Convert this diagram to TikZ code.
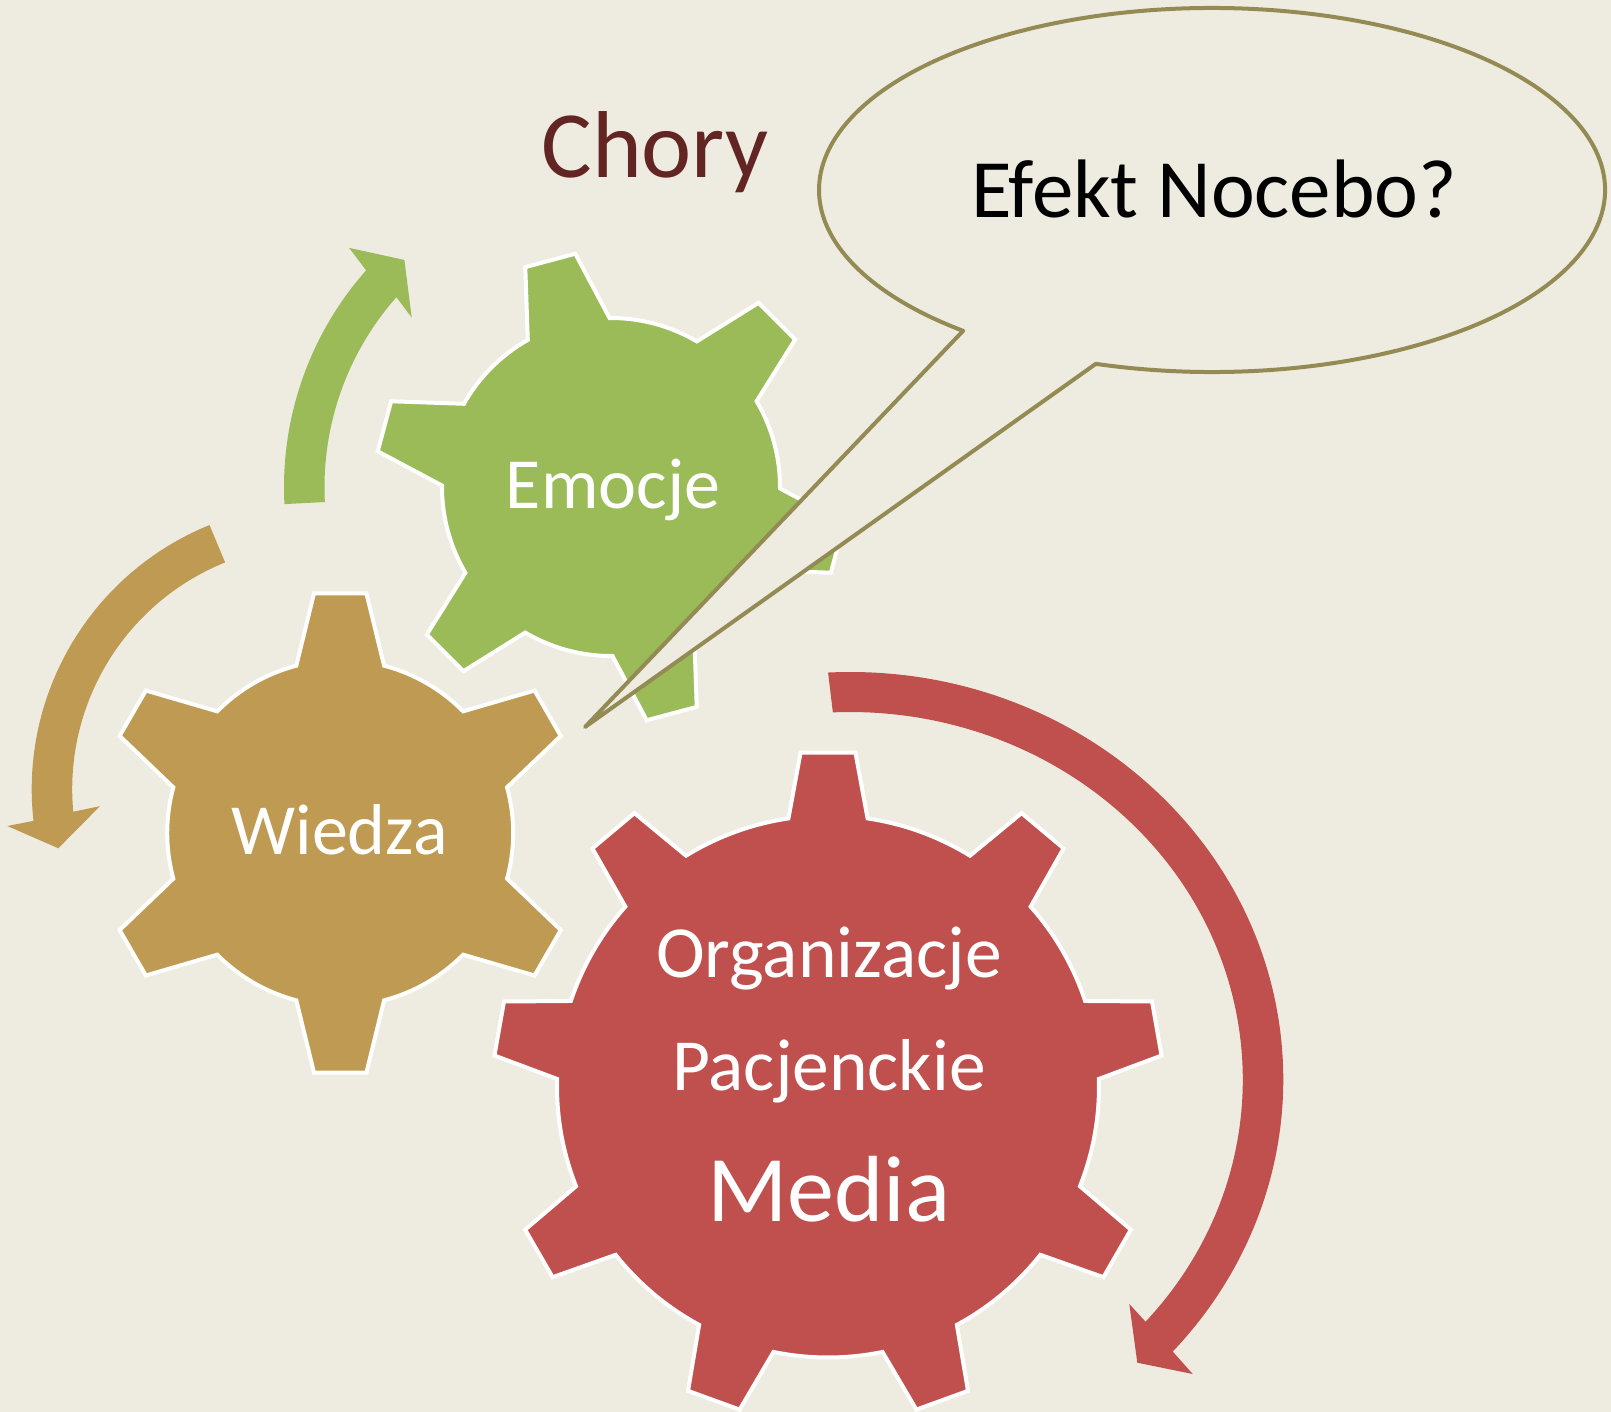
\documentclass[tikz,border=0pt]{standalone}
\usepackage{fontspec}
\setmainfont{Carlito}
\usetikzlibrary{calc}
\definecolor{PaperTan}{HTML}{EEECE1}
\definecolor{GearGreen}{HTML}{9BBB59}
\definecolor{GearBrown}{HTML}{BF9A52}
\definecolor{GearRed}{HTML}{C0504D}
\definecolor{CalloutOlive}{HTML}{948A54}
\definecolor{ChoryMaroon}{HTML}{632523}

% gear: centre, root r, tip r, teeth, first tooth angle, base half-angle, tip half-angle, fill
\newcommand{\cogwheel}[8]{%
  \filldraw[gearline,fill=#8,shift={#1}] ({#5-#6}:#2)
    \foreach \k in {1,...,#4}{
      -- ({#5+(\k-1)*360/#4-#7}:#3) -- ({#5+(\k-1)*360/#4+#7}:#3)
      -- ({#5+(\k-1)*360/#4+#6}:#2)
      arc[start angle={#5+(\k-1)*360/#4+#6}, end angle={#5+\k*360/#4-#6}, radius=#2]
    } -- cycle;}

\begin{document}
\begin{tikzpicture}[x=1pt,y=1pt,
    gearline/.style={draw=white,line width=4pt},
    gearlabel/.style={text=white,anchor=base,inner sep=0pt,font=\fontsize{72}{86}\selectfont}]
    \fill[PaperTan] (0,0) rectangle (1611,-1412);
    \useasboundingbox (0,0) rectangle (1611,-1412);
    % circular arrows round the gears
    \fill[GearGreen,shift={(611,-487)}] (183:327) arc[start angle=183,end angle=138.5,radius=327]
      -- (137.6:354.6) -- (132.3:307) -- (139.65:261.5) -- (138.5:286.5)
      arc[start angle=138.5,end angle=183,radius=286.5] -- cycle;
    \fill[GearBrown,shift={(316.7,-789.1)}] (112.1:285) arc[start angle=112.1,end angle=186.4,radius=285]
      -- (186.8:311.6) -- (192.9:265.1) -- (184.5:217.4) -- (185.3:244.5)
      arc[start angle=185.3,end angle=112,radius=244.5] -- cycle;
    \fill[GearRed,shift={(850,-1079.6)}] (92.9:433.3 and 407.6) arc[start angle=92.9,end angle=-41.85,x radius=433.3,y radius=407.6]
      -- (342.7,-294.4) -- (287.3,-283.1) -- (279.3,-224.4) -- (-41.2:392.8 and 367.6)
      arc[start angle=-41.2,end angle=92.5,x radius=392.8,y radius=367.6] -- cycle;
    % gears
    \cogwheel{(611,-487)}{169}{236}{6}{45}{14.5}{6.3}{GearGreen}
    \cogwheel{(340.2,-833)}{173}{241}{6}{90}{14.7}{6.25}{GearBrown}
    \cogwheel{(828,-1086.5)}{271}{335}{9}{90}{8.4}{4.7}{GearRed}
    % speech bubble
    \filldraw[draw=CalloutOlive,fill=PaperTan,line width=4pt,line join=round,shift={(1212,-190)}]
      (230.7:393 and 182) -- (-627,-537) -- (252.8:393 and 182)
      arc[start angle=252.8,end angle=590.7,x radius=393,y radius=182] -- cycle;
    \node[anchor=base,inner sep=0pt,text=ChoryMaroon,font=\fontsize{95}{114}\selectfont] (chory) at (655,-178) {Chory};
    \node[anchor=base,inner sep=0pt,font=\fontsize{83}{100}\selectfont] (nocebo) at (1214,-218) {Efekt Nocebo?};
    \node[gearlabel] (emocje) at (613,-508) {Emocje};
    \node[gearlabel] (wiedza) at (339.5,-854) {Wiedza};
    \node[gearlabel,font=\fontsize{73.5}{88}\selectfont] (organizacje) at (829,-977) {Organizacje};
    \node[gearlabel,font=\fontsize{73.5}{88}\selectfont] (pacjenckie) at (829,-1090.5) {Pacjenckie};
    \node[gearlabel,font=\fontsize{94}{112}\selectfont] (media) at (829,-1221) {Media};
  \end{tikzpicture}
\end{document}
